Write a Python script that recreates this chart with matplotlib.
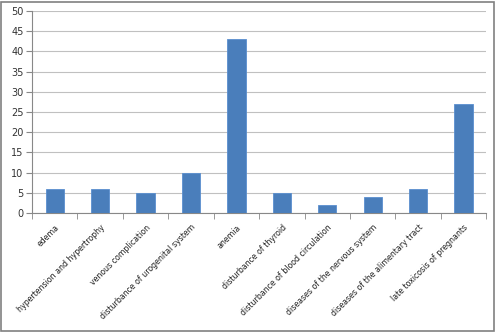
import numpy as np
import matplotlib.pyplot as plt

categories = ['edema', 'hypertension and hypertrophy', 'venous complication',
              'disturbance of urogenital system', 'anemia', 'disturbance of thyroid',
              'disturbance of blood circulation', 'diseases of the nervous system',
              'diseases of the alimentary tract', 'late toxicosis of pregnants']
values = [6, 6, 5, 10, 43, 5, 2, 4, 6, 27]
yticks = [0, 5, 10, 15, 20, 25, 30, 35, 40, 45, 50]

fig = plt.figure(figsize=(4.97, 3.33), dpi=100)
ax = fig.add_axes([0.0644, 0.360, 0.914, 0.607])

x = np.arange(len(categories))
ax.bar(x, values, width=0.4, color='#4a7ebb', edgecolor='#5a8fd0', linewidth=0.6, zorder=3)

ax.set_xlim(-0.5, len(categories) - 0.5)
ax.set_ylim(0, 50)
ax.set_yticks(yticks)
ax.set_yticklabels([str(v) for v in yticks], fontsize=7, color='#333333')
ax.yaxis.grid(True, color='#c0c0c0', linewidth=0.8, zorder=0)

ax.set_xticks(x)
ax.set_xticklabels(categories, rotation=45, ha='right', rotation_mode='anchor',
                   fontsize=5.7, color='#222222')
ax.tick_params(axis='x', length=0, pad=7)
ax.set_xticks(np.arange(-0.5, len(categories)), minor=True)
ax.tick_params(axis='x', which='minor', length=4, color='#888888')
ax.tick_params(axis='y', length=4, color='#888888', pad=2)

for s in ['top', 'right']:
    ax.spines[s].set_visible(False)
for s in ['left', 'bottom']:
    ax.spines[s].set_color('#888888')

fig.patches.append(plt.Rectangle((0.003, 0.006), 0.991, 0.988, transform=fig.transFigure,
                                 fill=False, edgecolor='#808080', linewidth=1.2))

fig.savefig('out.png', dpi=100)
